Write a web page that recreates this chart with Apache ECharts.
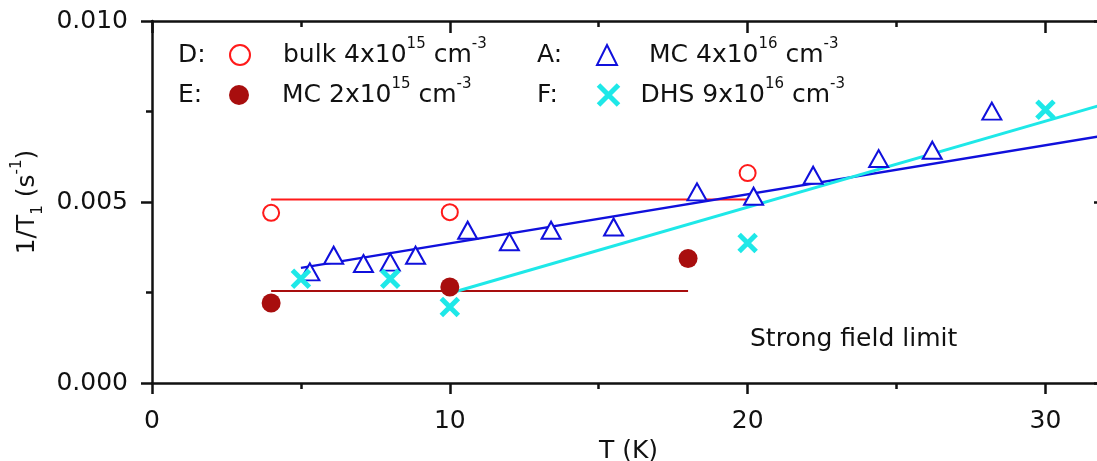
<!DOCTYPE html>
<html>
<head>
<meta charset="utf-8">
<script src="https://cdn.jsdelivr.net/npm/echarts@6/dist/echarts.min.js"></script>
<style>
  html, body { margin: 0; padding: 0; background: #ffffff; }
  #chart { width: 1097px; height: 461px; }
</style>
</head>
<body>
<div id="chart"></div>
<script>
// Spin-lattice relaxation rate 1/T1 (s^-1) versus temperature T (K)

// D: bulk 4x10^15 cm^-3
const bulkT = [4, 10, 20];
const bulkRate = [0.00470, 0.00472, 0.00580];
// E: MC 2x10^15 cm^-3
const mcLowT = [4, 10, 18];
const mcLowRate = [0.00221, 0.00265, 0.00344];
// A: MC 4x10^16 cm^-3
const mcHighT = [5.3, 6.1, 7.1, 8.0, 8.85, 10.6, 12.0, 13.4, 15.5, 18.3, 20.2, 22.2, 24.4, 26.2, 28.2];
const mcHighRate = [0.00307, 0.00353, 0.00330, 0.00334, 0.00353, 0.00422, 0.00390, 0.00422,
                    0.00431, 0.00528, 0.00516, 0.00574, 0.00620, 0.00643, 0.00751];
// F: DHS 9x10^16 cm^-3
const dhsT = [5, 8, 10, 20, 30];
const dhsRate = [0.00288, 0.00288, 0.00210, 0.00387, 0.00755];

// Fitted lines (end points)
const bulkFitT = [4, 20];
const bulkFitRate = [0.00507, 0.00507];
const mcLowFitT = [4, 18];
const mcLowFitRate = [0.00254, 0.00254];
const mcHighFitT = [5, 32];
const mcHighFitRate = [0.00318, 0.00684];
const dhsFitT = [10, 32];
const dhsFitRate = [0.00248, 0.00771];

// Axis ranges and ticks
const xMin = 0, xMax = 32, xStep = 10;
const yMin = 0, yMax = 0.010, yStep = 0.005;

const FONT = 'DejaVu Sans';
const INK = '#111111';
const RED = '#ff1a1a';
const DARKRED = '#a80e0e';
const BLUE = '#1010dc';
const CYAN = '#1ee8e8';

const pairs = (xs, ys) => xs.map((x, i) => [x, ys[i]]);

function legendRich(pad) {
  return {
    f: { fontSize: 25, fontFamily: FONT, color: INK, lineHeight: 36, verticalAlign: 'middle', padding: [0, 0, 0, pad] },
    t: { fontSize: 25, fontFamily: FONT, color: INK, lineHeight: 36, verticalAlign: 'middle' },
    s: { fontSize: 15, fontFamily: FONT, color: INK, lineHeight: 15, verticalAlign: 'top' }
  };
}

function legendAt(name, left, top, pad, stroke, text) {
  return {
    data: [name],
    left: left, top: top, padding: 0,
    orient: 'horizontal',
    itemWidth: 20, itemHeight: 20,
    selectedMode: false,
    itemStyle: { borderWidth: stroke },
    formatter: () => text,
    textStyle: { rich: legendRich(pad) }
  };
}

const axisLineStyle = { color: INK, width: 2.5 };

const chart = echarts.init(document.getElementById('chart'), null, { renderer: 'canvas' });

chart.setOption({
  animation: false,
  backgroundColor: '#ffffff',
  // plot frame runs a little past the right edge of the page
  grid: { left: 152, top: 21, width: 953, height: 362, containLabel: false, outerBoundsMode: 'none' },
  xAxis: [
    {
      type: 'value', position: 'bottom', min: xMin, max: xMax, interval: xStep,
      name: 'T (K)', nameLocation: 'middle', nameGap: 54,
      nameTextStyle: { fontSize: 25, fontFamily: FONT, color: INK },
      axisLine: { show: true, onZero: false, lineStyle: axisLineStyle },
      axisTick: { show: true, inside: false, length: 11, lineStyle: axisLineStyle },
      minorTick: { show: true, splitNumber: 2, length: 6, lineStyle: axisLineStyle },
      axisLabel: { fontSize: 25, fontFamily: FONT, color: INK, margin: 26, showMaxLabel: false },
      splitLine: { show: false }
    },
    {
      type: 'value', position: 'top', min: xMin, max: xMax, interval: xStep,
      axisLine: { show: true, onZero: false, lineStyle: axisLineStyle },
      axisTick: { show: true, inside: true, length: 12, lineStyle: axisLineStyle },
      minorTick: { show: true, splitNumber: 2, length: 6, lineStyle: axisLineStyle },
      axisLabel: { show: false },
      splitLine: { show: false }
    }
  ],
  yAxis: [
    {
      type: 'value', position: 'left', min: yMin, max: yMax, interval: yStep,
      name: '{m|1/T}{b|1}{m| (s}{p|-1}{m|)}', nameLocation: 'middle', nameGap: 97,
      nameTextStyle: {
        rich: {
          m: { fontSize: 25, fontFamily: FONT, color: INK, lineHeight: 36, verticalAlign: 'middle' },
          b: { fontSize: 15, fontFamily: FONT, color: INK, lineHeight: 15, verticalAlign: 'bottom' },
          p: { fontSize: 15, fontFamily: FONT, color: INK, lineHeight: 15, verticalAlign: 'top' }
        }
      },
      axisLine: { show: true, onZero: false, lineStyle: axisLineStyle },
      axisTick: { show: true, inside: false, length: 11, lineStyle: axisLineStyle },
      minorTick: { show: true, splitNumber: 2, length: 6, lineStyle: axisLineStyle },
      axisLabel: {
        fontSize: 25, fontFamily: FONT, color: INK, margin: 24,
        formatter: (v) => v.toFixed(3)
      },
      splitLine: { show: false }
    },
    {
      type: 'value', position: 'right', min: yMin, max: yMax, interval: yStep,
      axisLine: { show: true, onZero: false, lineStyle: axisLineStyle },
      axisTick: { show: true, inside: true, length: 11, lineStyle: axisLineStyle },
      minorTick: { show: true, splitNumber: 2, length: 6, lineStyle: axisLineStyle },
      axisLabel: { show: false },
      splitLine: { show: false }
    }
  ],
  legend: [
    legendAt('bulk', 229, 37, 28, 2.8, '{f|bulk 4x10}{s|15}{t| cm}{s|-3}'),
    legendAt('MC low', 229, 77, 28, 0, '{f|MC 2x10}{s|15}{t| cm}{s|-3}'),
    legendAt('MC high', 596, 37, 27, 3.2, '{f|MC 4x10}{s|16}{t| cm}{s|-3}'),
    legendAt('DHS', 596, 77, 17, 5, '{f|DHS 9x10}{s|16}{t| cm}{s|-3}')
  ],
  graphic: [
    { type: 'text', x: 178, y: 55, style: { text: 'D:', fontSize: 25, fontFamily: FONT, fill: INK, verticalAlign: 'middle' } },
    { type: 'text', x: 178, y: 95, style: { text: 'E:', fontSize: 25, fontFamily: FONT, fill: INK, verticalAlign: 'middle' } },
    { type: 'text', x: 537, y: 55, style: { text: 'A:', fontSize: 25, fontFamily: FONT, fill: INK, verticalAlign: 'middle' } },
    { type: 'text', x: 537, y: 95, style: { text: 'F:', fontSize: 25, fontFamily: FONT, fill: INK, verticalAlign: 'middle' } },
    { type: 'text', x: 750, y: 339, style: { text: 'Strong field limit', fontSize: 25, fontFamily: FONT, fill: INK, verticalAlign: 'middle' } }
  ],
  series: [
    {
      name: 'bulk fit', type: 'line', data: pairs(bulkFitT, bulkFitRate),
      symbol: 'none', lineStyle: { color: RED, width: 2 }, z: 2
    },
    {
      name: 'MC low fit', type: 'line', data: pairs(mcLowFitT, mcLowFitRate),
      symbol: 'none', lineStyle: { color: DARKRED, width: 2 }, z: 2
    },
    {
      name: 'MC high fit', type: 'line', data: pairs(mcHighFitT, mcHighFitRate),
      symbol: 'none', lineStyle: { color: BLUE, width: 2.5 }, z: 2
    },
    {
      name: 'DHS fit', type: 'line', data: pairs(dhsFitT, dhsFitRate),
      symbol: 'none', lineStyle: { color: CYAN, width: 3 }, z: 2
    },
    {
      name: 'bulk', type: 'scatter', data: pairs(bulkT, bulkRate),
      symbol: 'emptyCircle', symbolSize: 16,
      itemStyle: { color: RED, borderColor: RED, borderWidth: 2.8, opacity: 1 }, z: 3
    },
    {
      name: 'MC low', type: 'scatter', data: pairs(mcLowT, mcLowRate),
      symbol: 'circle', symbolSize: 19,
      itemStyle: { color: DARKRED, opacity: 1 }, z: 3
    },
    {
      name: 'MC high', type: 'scatter', data: pairs(mcHighT, mcHighRate),
      symbol: 'emptyTriangle', symbolSize: [19, 17],
      itemStyle: { color: BLUE, borderColor: BLUE, borderWidth: 3.2, opacity: 1 }, z: 3
    },
    {
      name: 'DHS', type: 'scatter', data: pairs(dhsT, dhsRate),
      symbol: 'path://M0,0L10,10M10,0L0,10', symbolSize: 17,
      itemStyle: { color: CYAN, borderColor: CYAN, borderWidth: 5, opacity: 1 }, z: 3
    }
  ]
});
</script>
</body>
</html>
